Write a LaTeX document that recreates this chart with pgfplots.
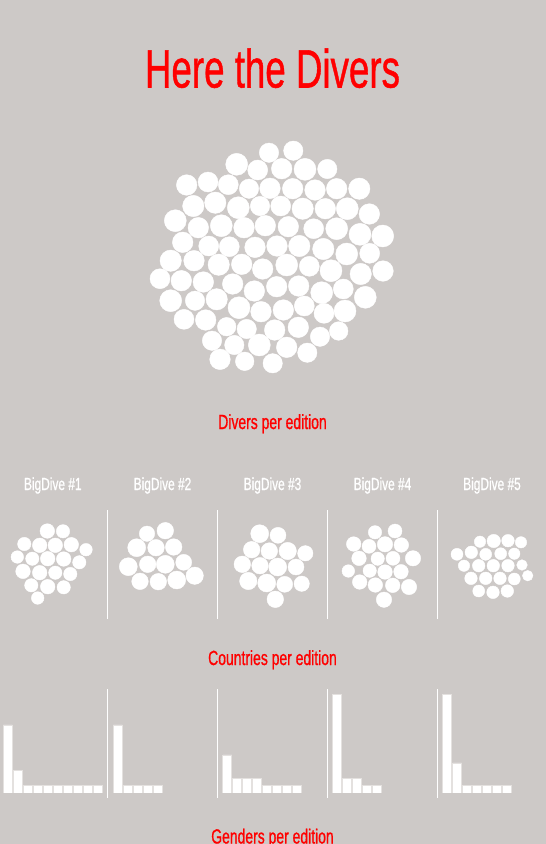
\documentclass[border=0pt]{standalone}
\usepackage{pgfplots}
\usepackage{pgfplotstable}
\usepackage{graphicx}
\usepackage{fontspec}
\pgfplotsset{compat=1.18}
\setmainfont{Liberation Sans}
\newfontfamily\oswfont{Liberation Sans}[FakeBold=1]

\definecolor{bg}{RGB}{205,201,199}
\definecolor{barline}{RGB}{228,225,223}
\definecolor{hired}{RGB}{255,0,0}

% condensed look (Oswald-like)
\newcommand{\osw}[2]{\scalebox{0.68}[1]{\oswfont\fontsize{#1}{#1}\selectfont #2}}

% all circle positions in pixels of the picture (y downwards), r = radius
\pgfplotstableread{
x y r
269.0 152.7 9.7
293.3 150.7 9.7
236.7 164.3 11
257.7 170.0 10
281.7 168.7 10.3
305.0 169.3 11
327.3 169.0 9.7
186.7 185.0 10.3
208.0 182.0 10
228.3 184.7 10
249.0 188.7 9.7
270.0 188.3 10.3
292.7 188.7 10.3
315.0 190.0 10.3
336.7 188.7 10.3
359.3 188.7 10.7
193.3 206.0 10.7
215.3 202.7 10.7
238.3 207.7 11
260.0 206.0 9.7
280.7 206.0 10
302.7 208.7 10.7
325.3 208.7 10.3
347.3 208.7 11
369.3 214.0 10.3
175.3 220.7 11
198.3 227.7 10.3
221.3 225.7 11
244.0 227.7 10.3
265.3 225.7 10.3
288.3 226.7 10.3
313.7 228.7 10
336.7 228.7 11
360.0 234.3 11
382.7 236.0 11
182.7 242.3 10.3
208.7 246.0 10
229.3 246.7 10
255.0 247.3 10.3
277.0 246.0 10.3
299.3 246.0 10.7
323.3 249.0 10.7
346.7 254.0 11
369.7 253.3 10
170.7 260.7 10.7
194.0 260.7 10.3
218.7 264.7 10.7
241.7 264.3 10.3
262.7 269.0 10.3
286.7 265.0 11
309.3 266.3 10
331.0 270.7 11
360.7 274.0 10.7
383.0 271.0 10.3
160.0 278.7 10
181.3 280.7 10.3
203.3 282.0 10.3
232.7 284.0 10.3
254.3 291.0 10.3
276.7 286.7 10.3
298.7 286.0 10.3
321.7 292.7 11
343.3 289.0 10
365.3 297.3 11
170.7 300.7 11
195.0 300.7 9.7
216.7 299.3 10.7
239.0 307.7 11
261.0 311.7 10.3
283.3 310.0 10.3
304.3 306.0 10
324.0 313.3 10
345.0 311.0 11
184.0 319.3 10
205.7 320.0 10.3
226.7 326.7 9.3
246.7 329.0 9.7
274.7 330.0 10.3
298.3 327.3 10.3
320.0 336.7 9.7
338.7 331.0 9.3
212.0 340.7 9.7
234.3 345.0 9.7
259.3 345.0 11
286.7 347.3 10.3
307.3 352.7 9.7
220.0 359.3 10.3
244.7 361.3 9.3
272.7 363.3 9.7
}\divers

\pgfplotstableread{
x y r
47.3 531.0 7.3
63.0 531.3 6.7
24.3 544.0 6.7
39.7 545.3 7.3
55.3 545.3 7.3
71.3 544.7 7.3
86.0 549.7 6.3
17.3 557.0 6.3
32.3 558.7 6.7
47.7 558.7 7.3
63.7 559.0 7.3
79.3 562.3 6.7
23.0 571.3 7.3
39.7 572.7 7.3
55.3 572.7 6.7
70.3 574.0 6.7
31.3 585.3 6.7
47.7 586.7 7.3
63.7 587.3 6.7
37.7 598.0 6.3
}\cone

\pgfplotstableread{
x y r
147.0 533.7 7.7
165.3 530.7 8.3
136.7 547.7 9
156.0 547.7 8.3
173.7 547.0 8.3
128.3 566.7 9
147.7 564.3 8.3
165.3 564.3 9
183.7 562.3 8
140.0 581.3 8.3
158.3 581.7 8.3
176.7 580.0 9
194.7 575.7 8.7
}\ctwo

\pgfplotstableread{
x y r
259.7 533.7 9
278.0 535.3 8
251.7 549.7 8.3
269.3 551.0 8.3
287.7 551.0 8.7
305.3 553.3 7.7
242.3 564.3 8.3
260.0 565.7 8.3
277.7 567.0 9
296.0 567.0 8
248.3 581.0 8.7
266.7 583.0 9
284.7 584.3 8
301.7 583.7 7.7
275.3 599.3 8.3
}\cthree

\pgfplotstableread{
x y r
375.0 532.3 6.7
395.0 531.0 7
353.7 544.0 7.3
369.0 546.3 7
385.0 544.3 7.7
401.3 545.0 7.3
359.0 558.3 7.3
377.7 558.7 6.7
393.0 558.3 7
413.0 558.3 7.7
348.3 571.0 6.3
369.7 570.7 6.7
385.0 572.0 7.3
401.0 571.7 7.3
359.7 582.0 7.3
375.3 585.0 7.3
392.7 585.3 7.3
409.0 587.0 7.7
384.0 599.7 7.7
}\cfour

\pgfplotstableread{
x y r
480.0 541.7 5.7
493.7 541.0 6.7
508.0 540.7 6.3
521.0 542.3 5.7
457.0 554.3 6
471.3 552.3 6.3
485.7 554.3 6
500.7 553.7 6
514.3 553.7 5.7
464.0 565.7 5.7
478.7 565.7 6.3
493.3 565.7 6.3
508.0 565.7 6.3
522.0 565.0 5.3
471.0 578.3 6.3
485.7 578.3 6.3
500.0 578.3 6.3
514.3 579.0 6
527.7 575.7 5.3
478.7 591.0 6
493.0 592.3 6.3
507.3 591.0 6.3
}\cfive

% gender bars: x = bar centre (px), h = bar height (px)
\pgfplotstableread{
x h
7.8 68
17.8 22.3
27.8 7.3
37.8 7.3
47.8 7.3
57.8 7.3
67.8 7.3
77.8 7.3
87.8 7.3
97.8 7.3
}\gone
\pgfplotstableread{
x h
117.8 68
127.8 7.3
137.8 7.3
147.8 7.3
157.8 7.3
}\gtwo
\pgfplotstableread{
x h
227.3 38
237.3 14.7
247.3 14.7
257.3 14.7
267.3 7.3
277.3 7.3
287.3 7.3
297.3 7.3
}\gthree
\pgfplotstableread{
x h
337.3 98.7
347.3 14.7
357.3 14.7
367.3 7.3
377.3 7.3
}\gfour
\pgfplotstableread{
x h
447.0 98.7
457.0 30
467.0 7.3
477.0 7.3
487.0 7.3
497.0 7.3
507.0 7.3
}\gfive

\pgfplotsset{
  bubbles/.style={
    white, scatter, only marks, mark=*,
    mark options={draw=white, fill=white},
    scatter/use mapped color={draw=white, fill=white},
    visualization depends on={\thisrow{r} \as \rad},
    scatter/@pre marker code/.append style={/tikz/mark size=\rad},
  },
}

\begin{document}
\begin{tikzpicture}
\fill[bg] (0,0) rectangle (546pt,844pt);

\begin{axis}[
  name=canvas,
  scale only axis, width=546pt, height=844pt,
  xmin=0, xmax=546, ymin=0, ymax=844, y dir=reverse,
  hide axis, clip=true,
]
\addplot[bubbles] table[x=x, y=y] {\divers};
\addplot[bubbles] table[x=x, y=y] {\cone};
\addplot[bubbles] table[x=x, y=y] {\ctwo};
\addplot[bubbles] table[x=x, y=y] {\cthree};
\addplot[bubbles] table[x=x, y=y] {\cfour};
\addplot[bubbles] table[x=x, y=y] {\cfive};

% separators
\draw[white, line width=1pt] (axis cs:107.7,510) -- (axis cs:107.7,619);
\draw[white, line width=1pt] (axis cs:217.7,510) -- (axis cs:217.7,619);
\draw[white, line width=1pt] (axis cs:327.3,510) -- (axis cs:327.3,619);
\draw[white, line width=1pt] (axis cs:437.3,510) -- (axis cs:437.3,619);
\draw[white, line width=1pt] (axis cs:107.7,689) -- (axis cs:107.7,798);
\draw[white, line width=1pt] (axis cs:217.7,689) -- (axis cs:217.7,798);
\draw[white, line width=1pt] (axis cs:327.3,689) -- (axis cs:327.3,798);
\draw[white, line width=1pt] (axis cs:437.3,689) -- (axis cs:437.3,798);

\node[anchor=base, text=hired, inner sep=0] at (axis cs:272.5,87.5) {\osw{54pt}{Here the Divers}};
\node[anchor=base, text=hired, inner sep=0] at (axis cs:272.5,429) {\osw{20.5pt}{Divers per edition}};
\node[anchor=base, text=hired, inner sep=0] at (axis cs:272.5,665) {\osw{20.5pt}{Countries per edition}};
\node[anchor=base, text=hired, inner sep=0] at (axis cs:272.5,843.5) {\osw{20.5pt}{Genders per edition}};

\node[anchor=base, text=white, inner sep=0] at (axis cs:52.8,490) {\osw{17.5pt}{BigDive \#1}};
\node[anchor=base, text=white, inner sep=0] at (axis cs:162.5,490) {\osw{17.5pt}{BigDive \#2}};
\node[anchor=base, text=white, inner sep=0] at (axis cs:272.5,490) {\osw{17.5pt}{BigDive \#3}};
\node[anchor=base, text=white, inner sep=0] at (axis cs:382.5,490) {\osw{17.5pt}{BigDive \#4}};
\node[anchor=base, text=white, inner sep=0] at (axis cs:492.0,490) {\osw{17.5pt}{BigDive \#5}};
\end{axis}

% gender bars, baseline at 793 px from the top
\begin{axis}[
  at={(0pt,51pt)}, anchor=south west,
  scale only axis, width=546pt, height=100pt,
  xmin=0, xmax=546, ymin=0, ymax=100,
  hide axis, ybar, bar width=9pt, bar shift=0pt,
]
\addplot[fill=white, draw=barline, line width=0.8pt] table[x=x, y=h] {\gone};
\addplot[fill=white, draw=barline, line width=0.8pt] table[x=x, y=h] {\gtwo};
\addplot[fill=white, draw=barline, line width=0.8pt] table[x=x, y=h] {\gthree};
\addplot[fill=white, draw=barline, line width=0.8pt] table[x=x, y=h] {\gfour};
\addplot[fill=white, draw=barline, line width=0.8pt] table[x=x, y=h] {\gfive};
\end{axis}

\pgfresetboundingbox
\useasboundingbox (0,0) rectangle (546pt,844pt);
\end{tikzpicture}
\end{document}
